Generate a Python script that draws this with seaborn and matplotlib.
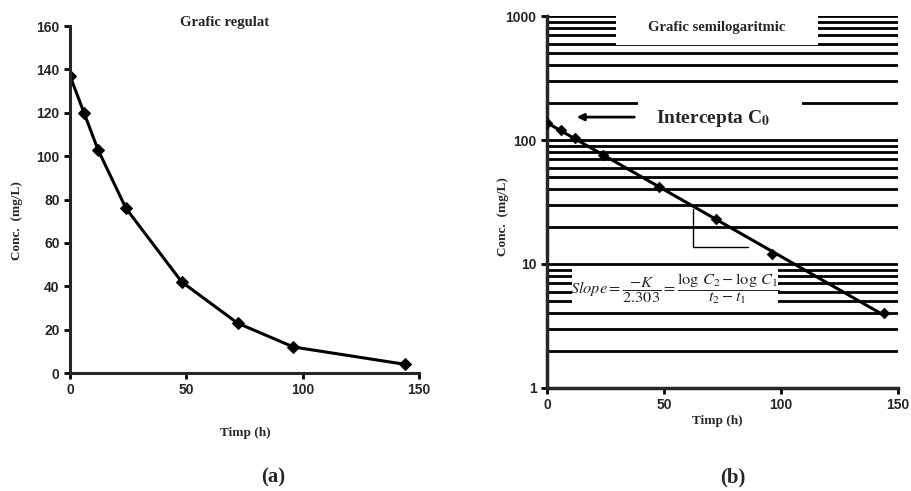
import numpy as np
import pandas as pd
import matplotlib
matplotlib.use('Agg')
import matplotlib.pyplot as plt
from matplotlib.patches import Rectangle
from matplotlib.ticker import LogLocator, NullFormatter, FixedLocator
import seaborn as sns

# date
timp = [0, 6, 12, 24, 48, 72, 96, 144]
conc = [137, 120, 103, 76, 42, 23, 12, 4]
x_ticks = [0, 50, 100, 150]
y_ticks_lin = [0, 20, 40, 60, 80, 100, 120, 140, 160]
y_ticks_log = [1, 10, 100, 1000]

df = pd.DataFrame({'Timp': timp, 'Conc': conc})

sns.set_style('ticks')
plt.rcParams['font.family'] = ['Liberation Serif', 'DejaVu Serif']
plt.rcParams['mathtext.fontset'] = 'stix'
tick_font = {'family': ['Liberation Sans Narrow', 'Liberation Sans'], 'weight': 'bold', 'size': 10}

fig = plt.figure(figsize=(9.12, 4.91), dpi=100)
ax1 = fig.add_axes([0.0768, 0.2403, 0.3827, 0.7067])
ax2 = fig.add_axes([0.5998, 0.2098, 0.3849, 0.7576])

# (a) grafic regulat
sns.lineplot(data=df, x='Timp', y='Conc', ax=ax1, color='black', lw=2.2,
             marker='D', markersize=6, markeredgecolor='black')
ax1.set_xlim(0, 150)
ax1.set_ylim(0, 160)
ax1.set_xticks(x_ticks)
ax1.set_yticks(y_ticks_lin)
ax1.set_xticklabels([str(v) for v in x_ticks], fontdict=tick_font)
ax1.set_yticklabels([str(v) for v in y_ticks_lin], fontdict=tick_font)
ax1.set_xlabel('Timp (h)', fontsize=9.5, fontweight='bold')
ax1.set_ylabel('Conc.  (mg/L)', fontsize=9.5, fontweight='bold')
ax1.xaxis.set_label_coords(0.502, -0.155)
ax1.yaxis.set_label_coords(-0.134, 0.44)
ax1.text(0.444, 1.011, 'Grafic regulat', transform=ax1.transAxes,
         ha='center', va='center', fontsize=10.5, fontweight='bold')
for s in ['top', 'right']:
    ax1.spines[s].set_visible(False)
for s in ['left', 'bottom']:
    ax1.spines[s].set_linewidth(2.2)
ax1.tick_params(width=2, length=4, color='black')

# (b) grafic semilogaritmic
ax2.set_yscale('log')
ax2.set_xlim(0, 150)
ax2.set_ylim(1, 1000)
ax2.yaxis.set_major_locator(FixedLocator(y_ticks_log))
ax2.yaxis.set_minor_locator(LogLocator(base=10, subs=np.arange(2, 10)))
ax2.yaxis.set_minor_formatter(NullFormatter())
ax2.set_yticklabels([str(v) for v in y_ticks_log], fontdict=tick_font)
ax2.set_xticks(x_ticks)
ax2.set_xticklabels([str(v) for v in x_ticks], fontdict=tick_font)
ax2.grid(axis='y', which='both', color='black', lw=2)
ax2.set_axisbelow(True)
ax2.tick_params(which='minor', length=0)
ax2.tick_params(which='major', width=2, length=4, color='black')
for s in ['top', 'right']:
    ax2.spines[s].set_visible(False)
for s in ['left', 'bottom']:
    ax2.spines[s].set_linewidth(2.5)

# dreapta de regresie log-liniara
k, b = np.polyfit(timp, np.log10(conc), 1)
fit = pd.DataFrame({'Timp': [min(timp), max(timp)]})
fit['Conc'] = 10 ** (b + k * fit['Timp'])
sns.lineplot(data=fit, x='Timp', y='Conc', ax=ax2, color='black', lw=2.2, zorder=4)
sns.scatterplot(data=df, x='Timp', y='Conc', ax=ax2, color='black', marker='D',
                s=30, edgecolor='black', zorder=5)
ax2.set_xlabel('')
ax2.set_ylabel('Conc.  (mg/L)', fontsize=9.5, fontweight='bold')
ax2.yaxis.set_label_coords(-0.107, 0.46)

# casete albe peste grila
for (x0, x1, y0, y1) in [(29.5, 115.8, 583, 1000), (38.9, 109, 104, 218), (10.7, 98.7, 4.2, 9.5)]:
    ax2.add_patch(Rectangle((x0, y0), x1 - x0, y1 - y0, facecolor='white',
                            edgecolor='none', zorder=2))

ax2.text(0.484, 0.968, 'Grafic semilogaritmic', transform=ax2.transAxes,
         ha='center', va='center', fontsize=10.5, fontweight='bold', zorder=6)
ax2.text(71, 150, r'Intercepta C$_\mathbf{0}$', ha='center', va='center',
         fontsize=14, fontweight='bold', zorder=6)
ax2.annotate('', xy=(11.5, 153), xytext=(38.5, 153),
             arrowprops=dict(arrowstyle='-|>', color='black', lw=2, mutation_scale=10),
             zorder=6)
ax2.text(54.5, 6.3, r'$\mathbf{\mathit{Slope}}=\dfrac{-K}{2.303}=\dfrac{\log\,C_2-\log\,C_1}{t_2-t_1}$',
         ha='center', va='center', fontsize=11.8, zorder=6)

# triunghiul pantei
ax2.plot([62.4, 62.4, 86], [27.8, 13.7, 13.7], color='black', lw=1, zorder=3)

ax2.text(72.6, -0.09, 'Timp (h)', transform=ax2.get_xaxis_transform(),
         ha='center', va='center', fontsize=9.5, fontweight='bold')

fig.text(0.299, 0.028, '(a)', ha='center', va='center', fontsize=15, fontweight='bold')
fig.text(0.803, 0.028, '(b)', ha='center', va='center', fontsize=15, fontweight='bold')

fig.savefig('out.png', dpi=100)
